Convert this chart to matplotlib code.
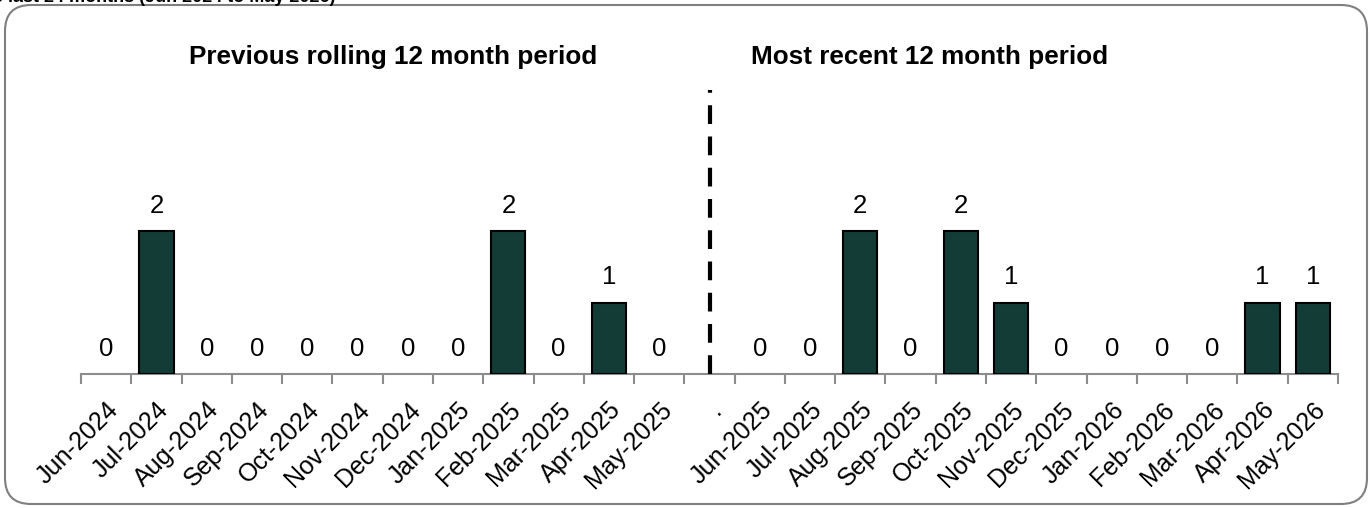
import matplotlib.pyplot as plt
from matplotlib.patches import FancyBboxPatch
from matplotlib.transforms import IdentityTransform

plt.rcParams['font.family'] = ['Liberation Sans', 'DejaVu Sans']

# data
prev_months = ['Jun-2024', 'Jul-2024', 'Aug-2024', 'Sep-2024', 'Oct-2024', 'Nov-2024',
               'Dec-2024', 'Jan-2025', 'Feb-2025', 'Mar-2025', 'Apr-2025', 'May-2025']
prev_values = [0, 2, 0, 0, 0, 0, 0, 0, 2, 0, 1, 0]
recent_months = ['Jun-2025', 'Jul-2025', 'Aug-2025', 'Sep-2025', 'Oct-2025', 'Nov-2025',
                 'Dec-2025', 'Jan-2026', 'Feb-2026', 'Mar-2026', 'Apr-2026', 'May-2026']
recent_values = [0, 0, 2, 0, 2, 1, 0, 0, 0, 0, 1, 1]
gap_label = '.'

labels = prev_months + [gap_label] + recent_months
values = prev_values + [None] + recent_values
x = list(range(len(labels)))
gap_x = len(prev_months)

bar_color = '#143c37'
axis_gray = '#8c8c8c'

fig = plt.figure(figsize=(13.7, 5.08), dpi=100)
ax = fig.add_axes([81 / 1370, 134 / 508, (1338 - 81) / 1370, 4.4 * 71.5 / 508])

bx = [xi for xi, v in zip(x, values) if v is not None]
bv = [v for v in values if v is not None]
# zero-height bars get no outline, like the original
ax.bar(bx, bv, width=0.68, color=bar_color, edgecolor='black',
       linewidth=[1.5 if v > 0 else 0 for v in bv], zorder=3)

for xi, v in zip(bx, bv):
    ax.annotate(str(v), (xi, v), xytext=(0, 18), textcoords='offset points',
                ha='center', va='center', fontsize=18.5, color='black')

ax.set_xlim(-0.5, len(labels) - 0.5)
ax.set_ylim(0, 4.4)

# dashed separator between the two periods
ax.plot([gap_x, gap_x], [0, 3.97], color='black', lw=3, ls=(0, (4.5, 3)), zorder=4)

ax.text(5.7, 4.43, 'Previous rolling 12 month period', ha='center', va='center',
        fontsize=18.8, fontweight='bold', clip_on=False)
ax.text(16.38, 4.43, 'Most recent 12 month period', ha='center', va='center',
        fontsize=18.8, fontweight='bold', clip_on=False)

for s in ['top', 'right', 'left']:
    ax.spines[s].set_visible(False)
ax.spines['bottom'].set_color(axis_gray)
ax.spines['bottom'].set_linewidth(1.5)
ax.set_yticks([])

ax.set_xticks([i - 0.5 for i in range(len(labels) + 1)])
ax.set_xticklabels([])
ax.set_xticks(x, minor=True)
ax.set_xticklabels(labels, minor=True, rotation=45, ha='right', rotation_mode='anchor',
                   fontsize=18)
ax.tick_params(axis='x', which='major', length=7, width=1.5, color=axis_gray)
ax.tick_params(axis='x', which='minor', length=0, pad=17)

# rounded chart border
border = FancyBboxPatch((5, 4), 1362, 499, boxstyle='round,pad=0,rounding_size=26',
                        transform=IdentityTransform(), facecolor='none',
                        edgecolor='#7f7f7f', linewidth=1.5)
fig.patches.append(border)

# heading above the chart, cut off by the image edge
fig.text(335 / 1370, 1 - 1.5 / 508, 'in the last 24 months (Jun 2024 to May 2026)',
         ha='right', va='baseline', fontsize=13, fontweight='bold')

fig.savefig('out.png', dpi=100)
